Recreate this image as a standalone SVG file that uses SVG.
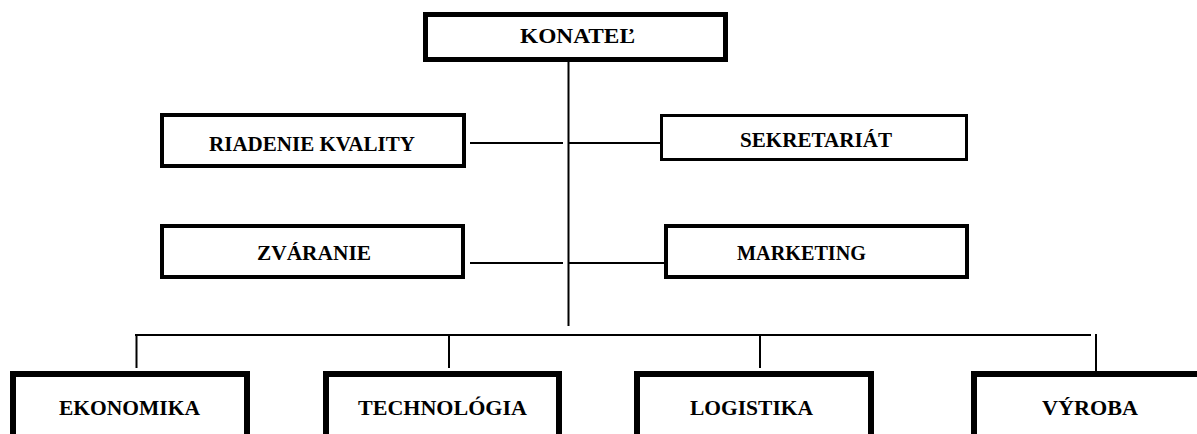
<svg xmlns="http://www.w3.org/2000/svg" width="1197" height="434" viewBox="0 0 1197 434">
<style>
  .box { fill: #ffffff; stroke: #000000; }
  .lbl { font-family: "Liberation Serif", "Times New Roman", serif; font-weight: bold; fill: #000000; }
  .m { font-size: 20px; }
  .b { font-size: 21px; }
  .ln { stroke: #000000; stroke-width: 2; fill: none; }
</style>
<rect width="1197" height="434" fill="#ffffff"/>
<g id="connectors">
  <line class="ln" x1="568.5" y1="62" x2="568.5" y2="326"/>
  <line class="ln" x1="470" y1="143" x2="563" y2="143"/>
  <line class="ln" x1="569" y1="143" x2="661" y2="143"/>
  <line class="ln" x1="470" y1="263" x2="563" y2="263"/>
  <line class="ln" x1="569" y1="263" x2="665" y2="263"/>
  <line class="ln" x1="135" y1="335" x2="1091" y2="335"/>
  <line class="ln" x1="136.5" y1="334" x2="136.5" y2="368"/>
  <line class="ln" x1="449" y1="334" x2="449" y2="368"/>
  <line class="ln" x1="760" y1="334" x2="760" y2="368"/>
  <line class="ln" x1="1096" y1="334" x2="1096" y2="372"/>
</g>
<g id="konatel">
  <rect class="box" x="425.5" y="14.5" width="300" height="45" stroke-width="5"/>
  <text class="lbl m" x="520" y="43" textLength="115" lengthAdjust="spacingAndGlyphs">KONATEĽ</text>
</g>
<g id="riadenie-kvality">
  <rect class="box" x="162" y="115" width="302" height="51" stroke-width="4"/>
  <text class="lbl m" x="209" y="151" textLength="206" lengthAdjust="spacingAndGlyphs">RIADENIE KVALITY</text>
</g>
<g id="sekretariat">
  <rect class="box" x="661.5" y="115.5" width="305" height="44" stroke-width="3"/>
  <text class="lbl m" x="740" y="147" textLength="152" lengthAdjust="spacingAndGlyphs">SEKRETARIÁT</text>
</g>
<g id="zvaranie">
  <rect class="box" x="162" y="226" width="301" height="51" stroke-width="4"/>
  <text class="lbl m" x="257" y="260" textLength="114" lengthAdjust="spacingAndGlyphs">ZVÁRANIE</text>
</g>
<g id="marketing">
  <rect class="box" x="666" y="226" width="301" height="51" stroke-width="4"/>
  <text class="lbl m" x="737" y="259.5" textLength="129" lengthAdjust="spacingAndGlyphs">MARKETING</text>
</g>
<g id="ekonomika">
  <rect class="box" x="13" y="374" width="234" height="110" stroke-width="6"/>
  <text class="lbl b" x="59" y="415" textLength="141" lengthAdjust="spacingAndGlyphs">EKONOMIKA</text>
</g>
<g id="technologia">
  <rect class="box" x="326" y="374" width="233" height="110" stroke-width="6"/>
  <text class="lbl b" x="358" y="415" textLength="169" lengthAdjust="spacingAndGlyphs">TECHNOLÓGIA</text>
</g>
<g id="logistika">
  <rect class="box" x="637" y="374" width="234" height="110" stroke-width="6"/>
  <text class="lbl b" x="690" y="415" textLength="123" lengthAdjust="spacingAndGlyphs">LOGISTIKA</text>
</g>
<g id="vyroba">
  <rect class="box" x="974" y="374" width="250" height="110" stroke-width="6"/>
  <text class="lbl b" x="1042" y="415" textLength="96" lengthAdjust="spacingAndGlyphs">VÝROBA</text>
</g>
</svg>
